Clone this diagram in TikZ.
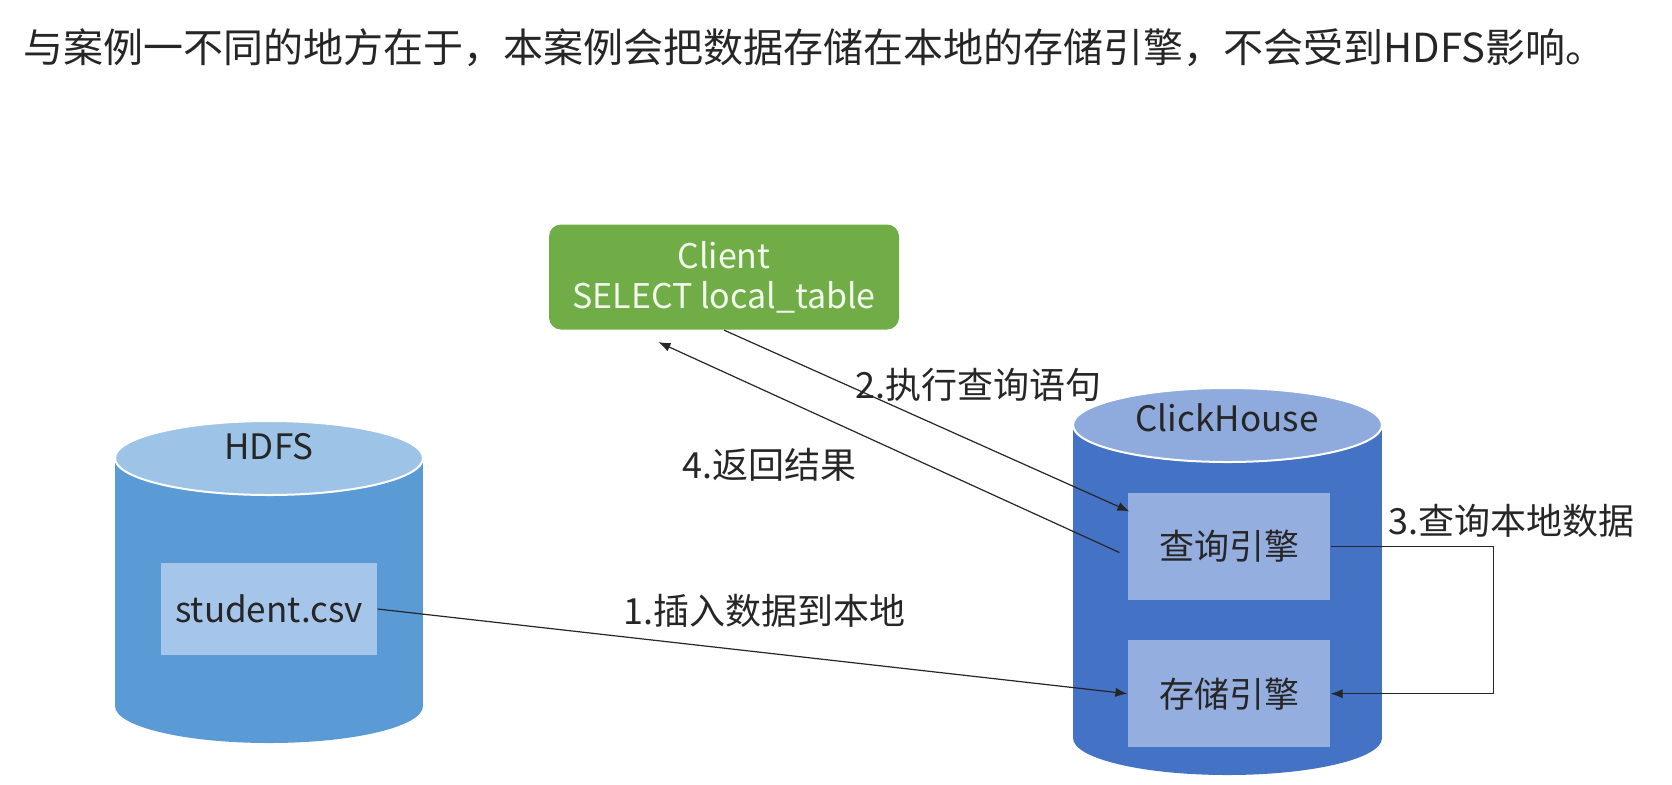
\documentclass[tikz,border=0pt]{standalone}
\usepackage{fontspec}
\setmainfont{Noto Sans CJK SC}
\usetikzlibrary{positioning, calc, arrows.meta}
\definecolor{clientgreen}{HTML}{70AD47}
\definecolor{clienttext}{HTML}{F2F8EC}
\definecolor{hdfsbody}{HTML}{5B9BD5}
\definecolor{hdfstop}{HTML}{9DC3E6}
\definecolor{hdfsbox}{HTML}{A5C5EA}
\definecolor{chbody}{HTML}{4472C4}
\definecolor{chtop}{HTML}{8FAADC}
\definecolor{chbox}{HTML}{94AEE0}
\definecolor{ink}{HTML}{262626}

\begin{document}
\begin{tikzpicture}[x=0.5pt, y=-0.5pt, >={Latex[length=6pt, width=4.6pt]}, line width=0.6pt]
\tikzset{
  box/.style={inner sep=0pt, minimum width=101pt, minimum height=53.5pt, text=ink, font=\fontsize{17.5}{21}\selectfont},
  client/.style={fill=clientgreen, rounded corners=6pt, align=center, text=clienttext, minimum width=175pt, minimum height=52.5pt, inner sep=0pt, font=\fontsize{17}{20}\selectfont},
  dblabel/.style={inner sep=0pt, text=ink, font=\fontsize{17.5}{21}\selectfont},
  lbl/.style={inner sep=0pt, text=ink, font=\fontsize{18}{21}\selectfont}
}
\useasboundingbox (0,0) rectangle (1672,784);

% title
\node[anchor=west, inner sep=0pt, text=ink, font=\fontsize{20}{24}\selectfont] (title) at (23,48) {与案例一不同的地方在于，本案例会把数据存储在本地的存储引擎，不会受到HDFS影响。};

% client
\node[client] (client) at (724,277) {Client\\SELECT local\_table};

% HDFS
\fill[hdfsbody] (115,458) rectangle (423,706);
\fill[hdfsbody] (269,706) ellipse[x radius=154, y radius=37];
\filldraw[fill=hdfstop, draw=white, line width=1pt] (269,458) ellipse[x radius=154, y radius=37];
\node[dblabel] (hdfs) at (269,447) {HDFS};
\node[box, fill=hdfsbox, minimum width=108pt, minimum height=46pt] (csv) at (269,609) {student.csv};

% ClickHouse
\fill[chbody] (1073,425) rectangle (1382,738);
\fill[chbody] (1227.5,738) ellipse[x radius=154.5, y radius=37];
\filldraw[fill=chtop, draw=white, line width=1pt] (1227.5,425) ellipse[x radius=154.5, y radius=37];
\node[dblabel] (ch) at (1227,418) {ClickHouse};
\node[box, fill=chbox] (query) at (1229,546.5) {查询引擎};
\node[box, fill=chbox, below=19.5pt of query] (store) {存储引擎};

% steps
\draw[->, ink] (csv.east) -- node[lbl, midway, above=11.5pt, xshift=6pt] {1.插入数据到本地} (store.west);
\draw[->, ink] (client.south) -- node[lbl, pos=0.3, right=4.5pt] {2.执行查询语句} ($(query.north west)+(2,19)$);
\draw[->, ink] (query.east) -- node[lbl, pos=0.35, anchor=south west, yshift=4.25pt] {3.查询本地数据} ++(163,0) |- (store.east);
\draw[->, ink] ($(query.west)+(-8,6)$) -- node[lbl, pos=0.57, below left=7.5pt and 0pt] {4.返回结果} ($(client.south west)+(110,12)$);

\end{tikzpicture}
\end{document}
